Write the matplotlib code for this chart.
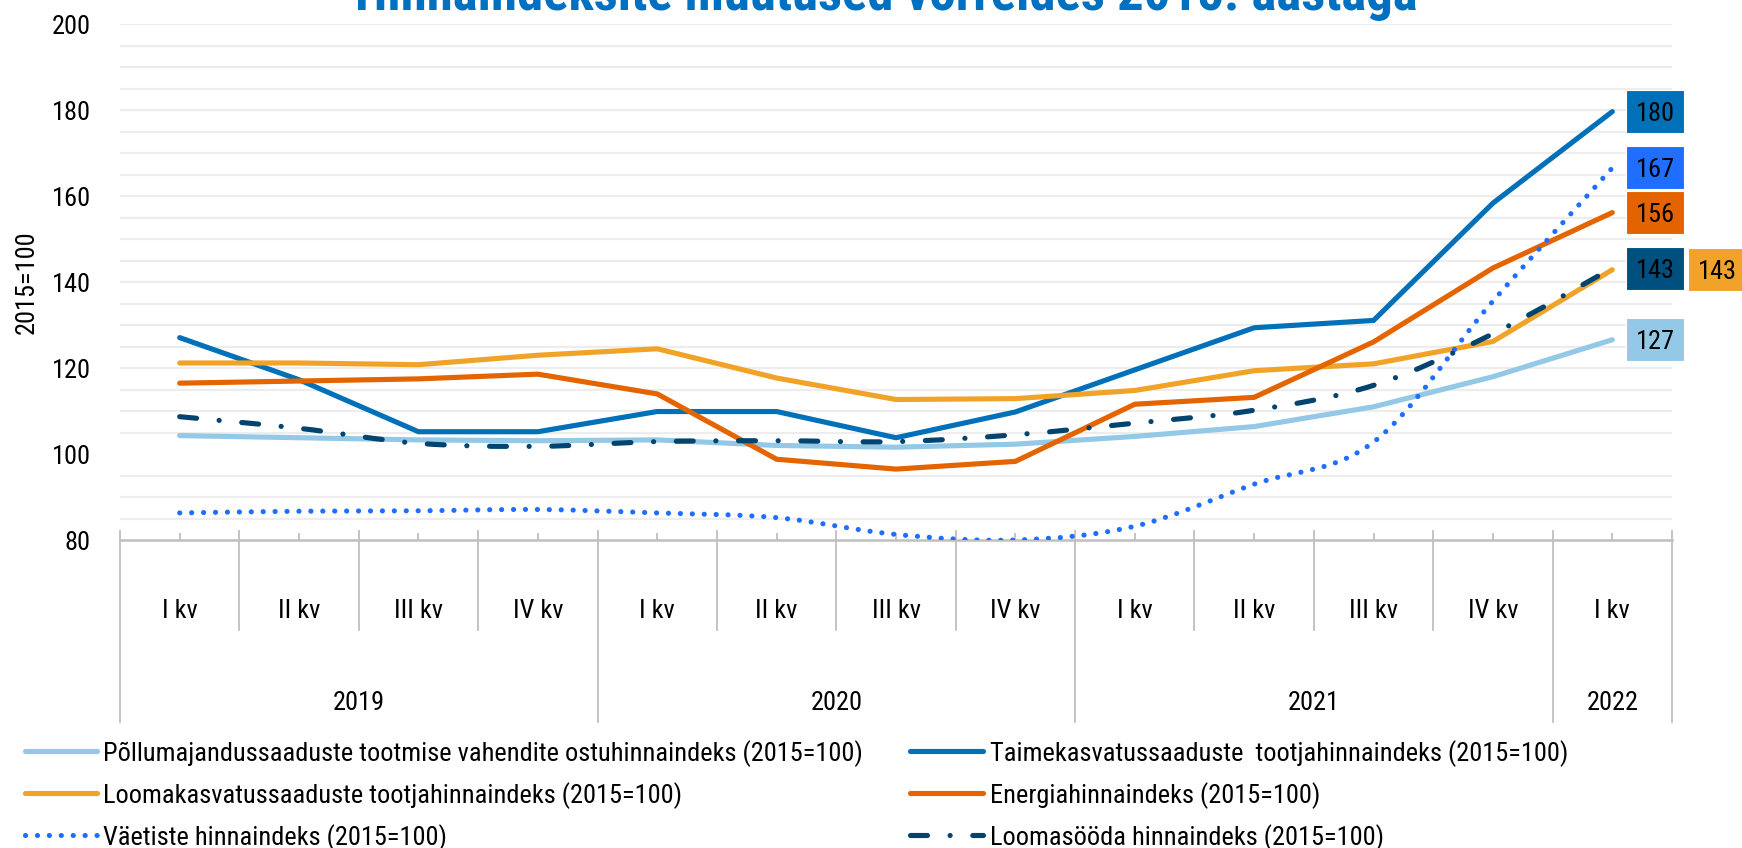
import numpy as np
import matplotlib
matplotlib.use('Agg')
from matplotlib import pyplot as plt
from matplotlib import font_manager
from matplotlib import transforms as mtransforms
from matplotlib.lines import Line2D
from matplotlib.path import Path
from matplotlib.patches import PathPatch, Rectangle

# Chart data
quarters = ['I kv', 'II kv', 'III kv', 'IV kv',
            'I kv', 'II kv', 'III kv', 'IV kv',
            'I kv', 'II kv', 'III kv', 'IV kv',
            'I kv']
years = ['2019', '2020', '2021', '2022']
year_sizes = [4, 4, 4, 1]

pollumajandus = [104.3, 103.8, 103.3, 103.1, 103.3, 102.0, 101.6, 102.3,
                 104.1, 106.4, 111.0, 118.0, 126.6]
taimekasvatus = [127.1, 117.3, 105.2, 105.2, 109.9, 109.9, 103.8, 109.8,
                 119.6, 129.4, 131.1, 158.4, 179.7]
loomakasvatus = [121.2, 121.2, 120.8, 123.0, 124.5, 117.7, 112.7, 112.9,
                 114.8, 119.4, 121.0, 126.2, 142.9]
energia = [116.5, 117.0, 117.5, 118.6, 114.0, 98.8, 96.5, 98.3,
           111.6, 113.2, 126.1, 143.3, 156.2]
vaetised = [86.3, 86.7, 86.8, 87.1, 86.3, 85.2, 81.3, 80.0,
            83.2, 93.0, 102.8, 135.6, 166.6]
loomasoot = [108.7, 106.0, 102.5, 101.8, 102.9, 103.1, 102.9, 104.5,
             107.2, 110.2, 116.0, 128.0, 143.3]

names = ['Põllumajandussaaduste tootmise vahendite ostuhinnaindeks (2015=100)',
         'Taimekasvatussaaduste  tootjahinnaindeks (2015=100)',
         'Loomakasvatussaaduste tootjahinnaindeks (2015=100)',
         'Energiahinnaindeks (2015=100)',
         'Väetiste hinnaindeks (2015=100)',
         'Loomasööda hinnaindeks (2015=100)']
series = [pollumajandus, taimekasvatus, loomakasvatus, energia, vaetised, loomasoot]
colors = ['#93C8E6', '#0070B8', '#F0A328', '#E46400', '#1F6EFF', '#00446F']
label_colors = ['#93C8E6', '#0070B8', '#F0A328', '#E36300', '#1F6EFF', '#00507F']
dashes = [None, None, None, None, (0.02, 2.3), (3.3, 4.4, 0.02, 4.4)]
smooth = [False, False, False, False, True, True]

# Fonts
installed = {f.name for f in font_manager.fontManager.ttflist}
font = 'DejaVu Sans'
for fam in ['Roboto Condensed', 'Liberation Sans Narrow', 'Roboto']:
    if fam in installed:
        font = fam
        break
plt.rcParams['font.family'] = [font, 'DejaVu Sans']
fs = 19

W, H = 1742, 848
fig = plt.figure(figsize=(W / 100, H / 100), dpi=100)
ax_left, ax_right, ax_top, ax_bottom = 120, 1672, 24.4, 540
ax = fig.add_axes([ax_left / W, 1 - ax_bottom / H,
                   (ax_right - ax_left) / W, (ax_bottom - ax_top) / H])
ax_h = ax_bottom - ax_top

x = np.arange(len(quarters))
ax.set_xlim(-0.5, len(quarters) - 0.5)
ax.set_ylim(80, 200)

# gridlines every 5 (no line at 100)
for v in np.arange(85, 201, 5):
    if v != 100:
        ax.axhline(v, color='#EDEDED', lw=1.6, zorder=0)


def smooth_path(xs, ys):
    pts = np.column_stack([xs, ys])
    verts = [pts[0]]
    codes = [Path.MOVETO]
    n = len(pts)
    for i in range(n - 1):
        p0 = pts[max(i - 1, 0)]
        p1 = pts[i]
        p2 = pts[i + 1]
        p3 = pts[min(i + 2, n - 1)]
        c1 = p1 + (p2 - p0) / 6
        c2 = p2 - (p3 - p1) / 6
        verts += [c1, c2, p2]
        codes += [Path.CURVE4] * 3
    return Path(verts, codes)


lw = 3.7
for i, (ys, c) in enumerate(zip(series, colors)):
    if smooth[i]:
        patch = PathPatch(smooth_path(x, ys), facecolor='none', edgecolor=c,
                          lw=lw, zorder=3 + i, capstyle='round')
        if dashes[i] is not None:
            patch.set_linestyle((0, dashes[i]))
        ax.add_patch(patch)
    else:
        ax.plot(x, ys, color=c, lw=lw, zorder=3 + i,
                solid_capstyle='round', solid_joinstyle='miter')

# axes styling
for s in ['left', 'right', 'top']:
    ax.spines[s].set_visible(False)
ax.spines['bottom'].set_color('#BFBFBF')
ax.spines['bottom'].set_linewidth(1.8)
ax.set_xticks(x)
ax.set_xticklabels([])
ax.tick_params(axis='x', direction='in', length=5, width=1.3, color='#BFBFBF')
ax.set_yticks(np.arange(80, 201, 20))
ax.tick_params(axis='y', length=0, pad=21, labelsize=fs)
ax.set_ylabel('2015=100', fontsize=fs, labelpad=9)

# multi-level category axis
tr = ax.get_xaxis_transform()
top_y = 9 / ax_h
quarter_end = -(630 - ax_bottom) / ax_h
year_end = -(722 - ax_bottom) / ax_h
year_bounds = np.concatenate([[0], np.cumsum(year_sizes)]) - 0.5
for b in np.arange(-0.5, len(quarters)):
    bottom = year_end if np.any(np.isclose(year_bounds, b)) else quarter_end
    ax.add_line(Line2D([b, b], [top_y, bottom], transform=tr, color='#BFBFBF',
                       lw=1.3, clip_on=False))
for i, q in enumerate(quarters):
    ax.text(i, -(611 - ax_bottom) / ax_h, q, transform=tr, ha='center',
            va='center', fontsize=fs)
for k, yr in enumerate(years):
    xc = (year_bounds[k] + year_bounds[k + 1]) / 2
    ax.text(xc, -(703 - ax_bottom) / ax_h, yr, transform=tr, ha='center',
            va='center', fontsize=fs)

# data labels at the last point
label_shift = [0, 0, 0.62, 0, 0, 0]
for i, ys in enumerate(series):
    off = mtransforms.ScaledTranslation(x[-1], ys[-1], ax.transData)
    t = fig.dpi_scale_trans + off
    x0 = 0.14 + label_shift[i]
    ax.add_patch(Rectangle((x0, -0.215), 0.58, 0.43, transform=t,
                           facecolor=label_colors[i], edgecolor='white', lw=0.8,
                           clip_on=False, zorder=10))
    ax.text(x0 + 0.29, 0, f'{ys[-1]:.0f}', transform=t, ha='center',
            va='center_baseline', fontsize=fs, color='black', zorder=11,
            clip_on=False)

# title (cut at the top edge as in the original)
fig.text(886 / W, 1 - 10 / H, 'Hinnaindeksite muutused võrreldes 2015. aastaga',
         ha='center', va='baseline', fontsize=38, fontweight='bold',
         color='#0070C0')

# legend, drawn by hand in two columns
leg_rows = [751, 793, 835]
leg_cols = [(25, 97, 103), (910, 983, 990)]
for i, name in enumerate(names):
    r, c = i // 2, i % 2
    x1, x2, xt = leg_cols[c]
    yy = 1 - leg_rows[r] / H
    ln = Line2D([x1 / W, x2 / W], [yy, yy], transform=fig.transFigure,
                color=colors[i], lw=lw, solid_capstyle='round',
                dash_capstyle='round')
    if dashes[i] is not None:
        ln.set_dashes(dashes[i])
    fig.add_artist(ln)
    fig.text(xt / W, yy, name, ha='left', va='center_baseline', fontsize=fs)

plt.savefig('out.png', dpi=100)
